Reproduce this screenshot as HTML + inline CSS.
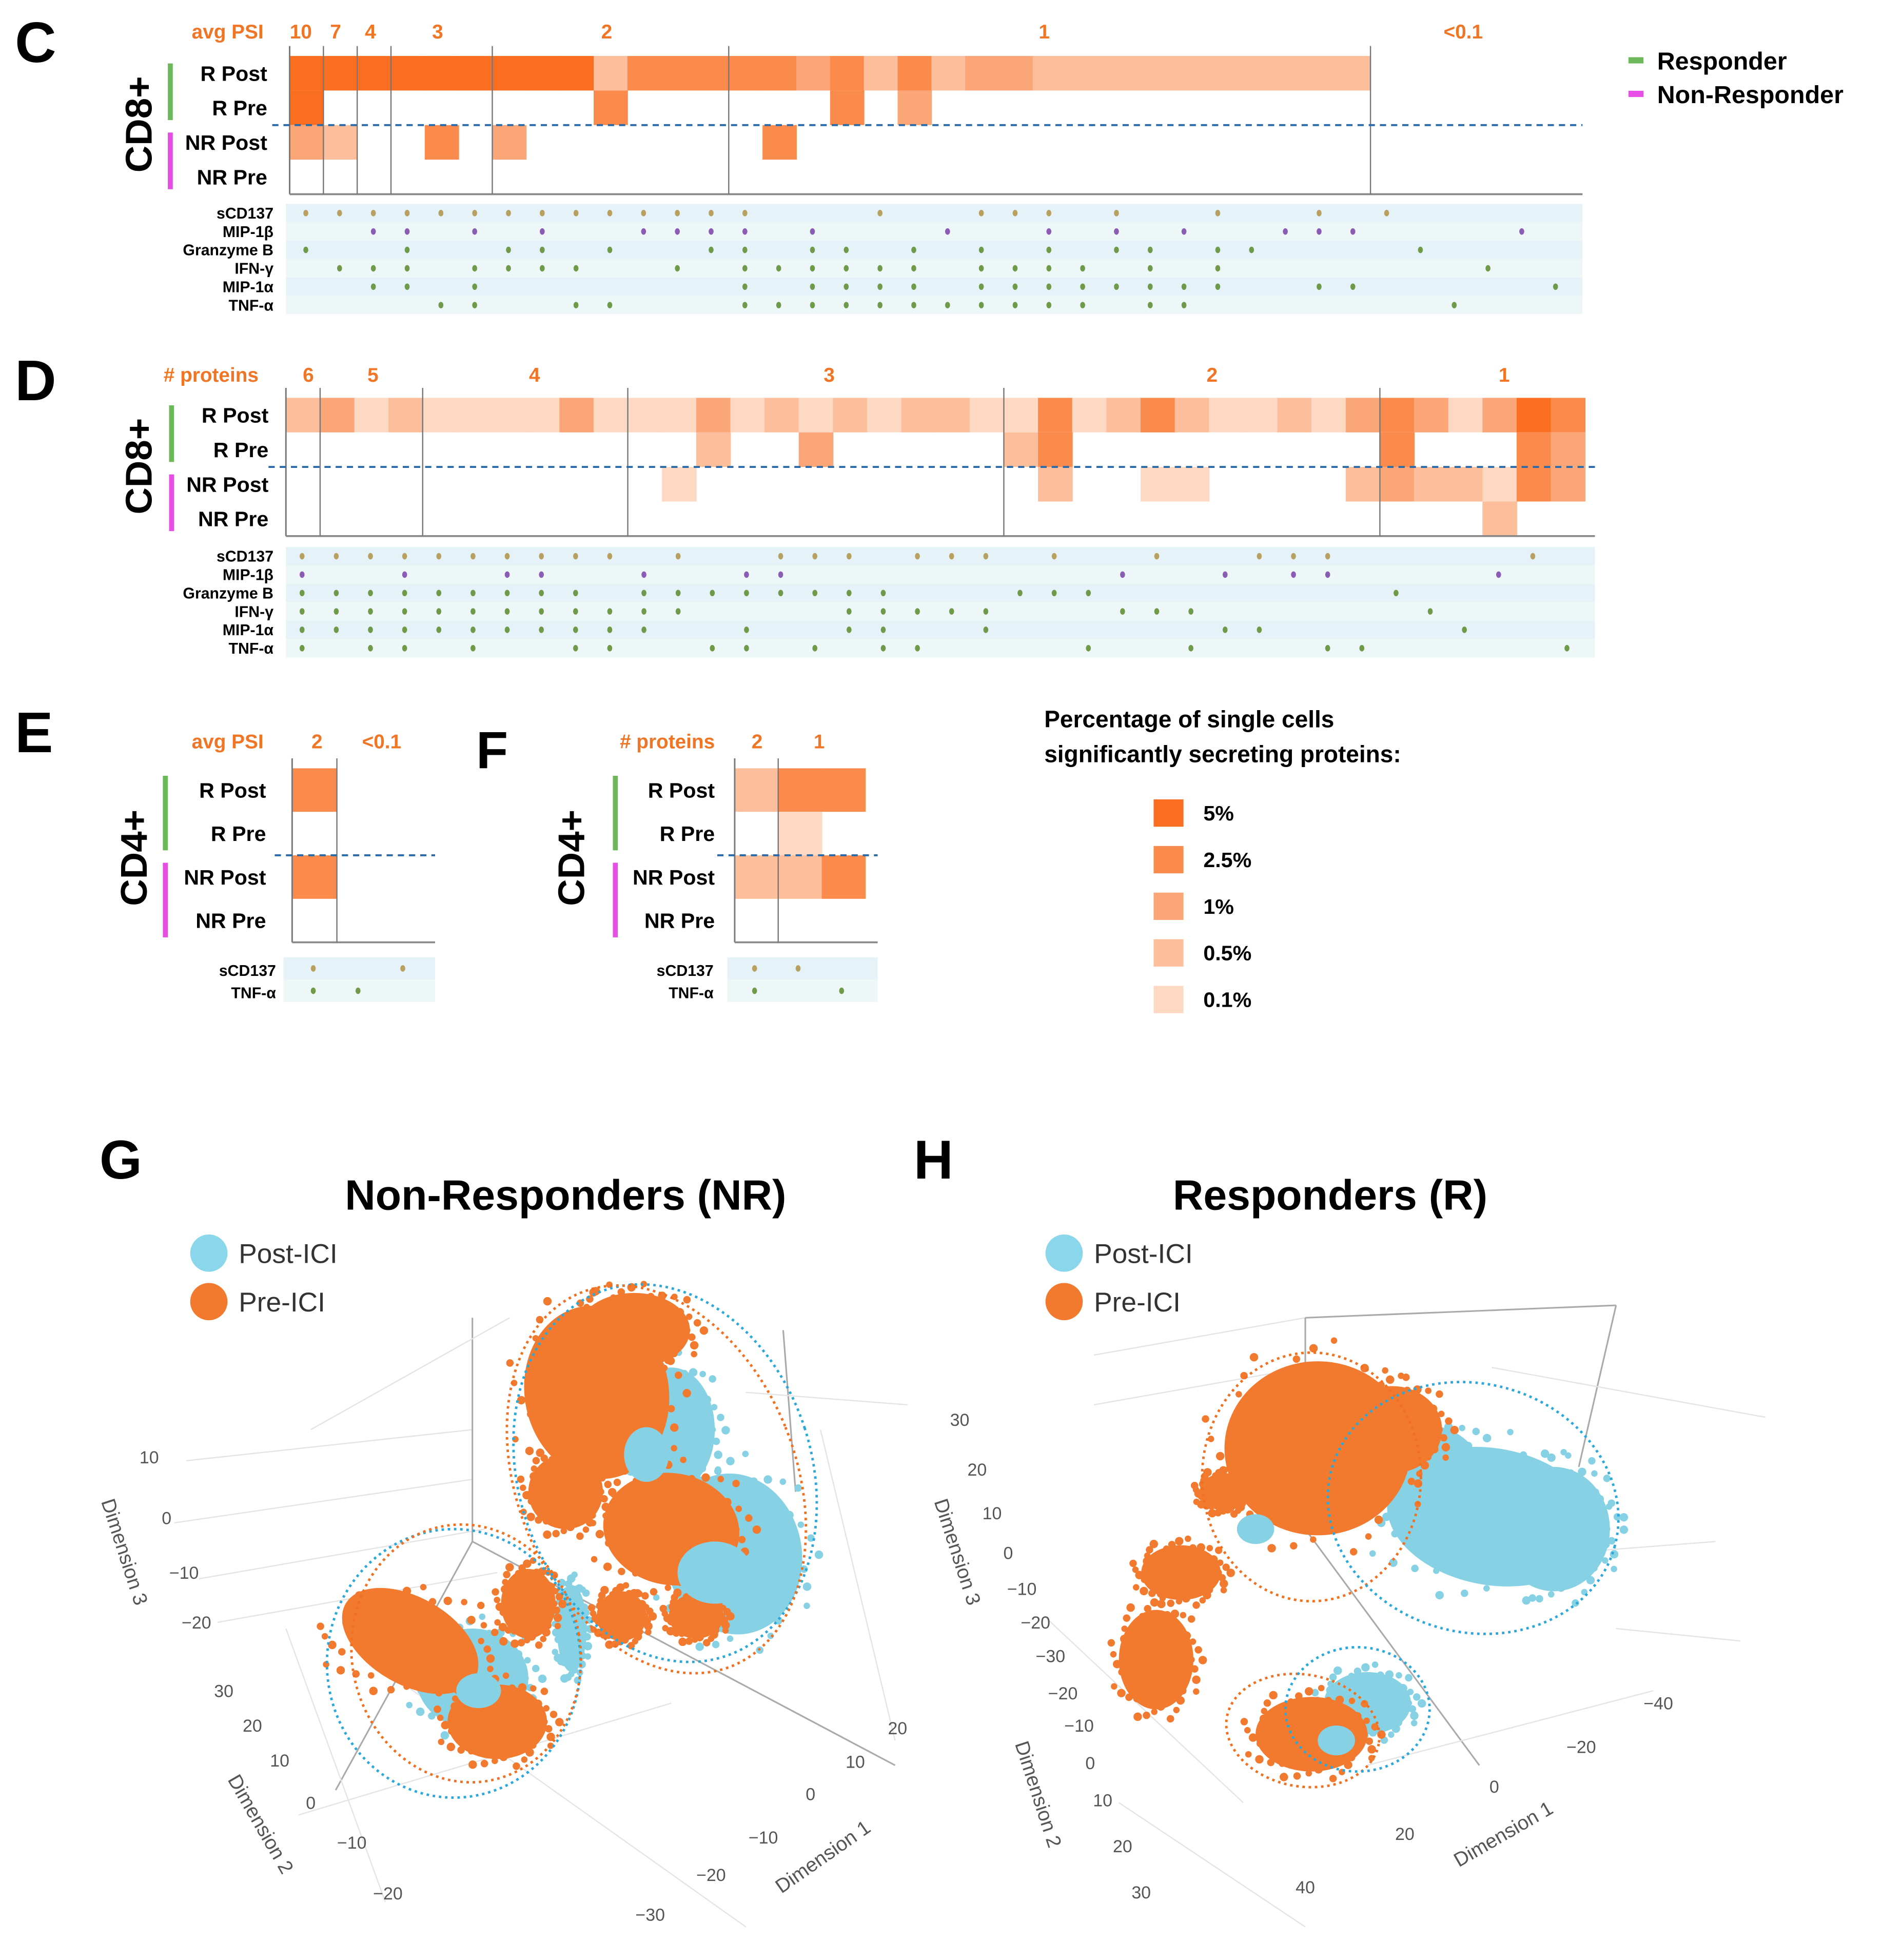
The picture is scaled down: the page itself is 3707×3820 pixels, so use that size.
<!DOCTYPE html>
<html><head><meta charset="utf-8"><style>
html,body{margin:0;padding:0;background:#fff;}
svg{display:block;font-family:"Liberation Sans",Arial,sans-serif;}
</style></head><body>
<svg id="fig" width="3707" height="3820" viewBox="0 0 1530 1576.6" xmlns="http://www.w3.org/2000/svg">
<g id="root"></g>
</svg>
<script>
// ---------- data ----------
const levelColors = ["#ffffff","#fdd9c4","#fcbe9b","#fba677","#fa8b4c","#fa6e22"]; // none,0.1,0.5,1,2.5,5
const legendLevels = ["5%","2.5%","1%","0.5%","0.1%"];
const proteinsC8 = ["sCD137","MIP-1β","Granzyme B","IFN-γ","MIP-1α","TNF-α"];
const proteinsC4 = ["sCD137","TNF-α"];
const rowLabels = ["R Post","R Pre","NR Post","NR Pre"];
const cRPost = [5,5,5,5,5,5,5,5,5,2,4,4,4,4,4,3,4,2,4,2,3,3,2,2,2,2,2,2,2,2,2,2];
const cRPre  = [5,0,0,0,0,0,0,0,0,4,0,0,0,0,0,0,4,0,3,0,0,0,0,0,0,0,0,0,0,0,0,0];
const cNRPost= [3,2,0,0,4,0,3,0,0,0,0,0,0,0,4,0,0,0,0,0,0,0,0,0,0,0,0,0,0,0,0,0];
const cNRPre = [0,0,0,0,0,0,0,0,0,0,0,0,0,0,0,0,0,0,0,0,0,0,0,0,0,0,0,0,0,0,0,0];
const cGroupCols = [1,2,3,6,13,32];
const cGroupLabels = ["10","7","4","3","2","1","<0.1"];
const cDots = [
 [0,1,2,3,4,5,6,7,8,9,10,11,12,13,17,20,21,22,24,27,30,32],
 [2,3,5,7,10,11,12,13,15,19,22,24,26,29,30,31,36],
 [0,3,6,7,9,12,13,15,16,18,20,22,24,25,27,28,33],
 [1,2,3,5,6,7,8,11,13,14,15,16,17,18,20,21,22,23,25,27,35],
 [2,3,5,13,15,16,17,18,20,21,22,23,24,25,26,27,30,31,37],
 [4,5,8,9,13,14,15,16,17,18,19,20,21,22,23,25,26,34]
];
const dRPost = [2,3,1,2,1,1,1,1,3,1,1,1,3,1,2,1,2,1,2,2,1,1,4,1,2,4,2,1,1,2,1,3,4,3,1,3,5,4];
const dRPre  = [0,0,0,0,0,0,0,0,0,0,0,0,2,0,0,3,0,0,0,0,0,2,4,0,0,0,0,0,0,0,0,0,4,0,0,0,4,3];
const dNRPost= [0,0,0,0,0,0,0,0,0,0,0,1,0,0,0,0,0,0,0,0,0,0,2,0,0,1,1,0,0,0,0,2,3,2,2,1,4,3];
const dNRPre = [0,0,0,0,0,0,0,0,0,0,0,0,0,0,0,0,0,0,0,0,0,0,0,0,0,0,0,0,0,0,0,0,0,0,0,2,0,0];
const dGroupCols = [1,4,10,21,32];
const dGroupLabels = ["6","5","4","3","2","1"];
const dDots = [
 [0,1,2,3,4,5,6,7,8,9,11,14,15,16,18,19,20,22,25,28,29,30,36],
 [0,3,6,7,10,13,14,24,27,29,30,35],
 [0,1,2,3,4,5,6,7,8,10,11,12,13,14,15,16,17,21,22,23,32],
 [0,1,2,3,4,5,6,7,8,9,10,11,16,17,18,19,20,24,25,26,33],
 [0,1,2,3,4,5,6,7,8,9,10,13,16,17,20,27,28,34],
 [0,2,3,5,8,9,12,13,15,17,18,23,26,30,31,37]
];
const eLevels = [[4],[0],[4],[0]];
const eDots = [[0,2],[0,1]];
const fLevels = [[2,4,4],[0,1,0],[2,2,4],[0,0,0]];
const fDots = [[0,1],[0,2]];
const gOrange = [[480,1120,58,70,-10],[510,1070,45,30,0],[540,1230,55,45,10],[455,1200,30,30,0],[330,1320,60,35,30],[400,1385,40,30,0],[425,1290,22,28,0],[500,1300,20,20,0],[560,1300,22,18,0]];
const gBlue = [[590,1250,55,65,-10],[540,1150,35,50,0],[380,1350,45,40,0],[460,1310,12,35,0]];
const gBlueTop = [[575,1265,30,25,0],[520,1170,18,22,0],[385,1360,18,14,0]];
const hOrange = [[1060,1165,75,70,0],[1120,1150,40,35,0],[950,1265,32,22,0],[930,1335,30,40,0],[1055,1395,45,30,0],[985,1200,20,15,0]];
const hBlue = [[1200,1220,85,55,10],[1250,1230,45,50,0],[1100,1370,35,25,0],[1140,1180,50,35,0]];
const hBlueTop = [[1010,1230,15,12,0],[1075,1400,15,12,0]];

// ---------- helpers ----------
const NS="http://www.w3.org/2000/svg";
const root=document.getElementById('root');
function el(tag,attrs,parent,text){const e=document.createElementNS(NS,tag);for(const k in attrs)e.setAttribute(k,attrs[k]);if(text!==undefined)e.textContent=text;(parent||root).appendChild(e);return e;}
const ORANGE="#f07525";

function heatPanel(o){
  const g=el('g',{});
  
  
  const rows=[o.rp,o.rpr,o.np,o.npr];
  const xs=c=>o.x0+c*o.cw;
  rows.forEach((r,ri)=>{r.forEach((lv,ci)=>{if(lv>0){const cell=el('rect',{x:xs(ci),y:o.y0+ri*o.rh,width:o.cw+0.4,height:o.rh,fill:levelColors[lv]},g);
    
    }});});
  el('line',{x1:o.x0,y1:o.y0-8,x2:o.x0,y2:o.y0+4*o.rh,stroke:'#777','stroke-width':1.2},g);
  el('line',{x1:o.x0,y1:o.y0+4*o.rh,x2:o.axEnd,y2:o.y0+4*o.rh,stroke:'#888','stroke-width':1.5},g);
  o.groups.forEach(c=>el('line',{x1:xs(c),y1:o.y0-8,x2:xs(c),y2:o.y0+4*o.rh,stroke:'#777','stroke-width':1},g));
  el('line',{x1:o.x0-14,y1:o.y0+2*o.rh,x2:o.axEnd,y2:o.y0+2*o.rh,stroke:'#2a6aa8','stroke-width':1.6,'stroke-dasharray':'5,4'},g);
  rowLabels.forEach((l,i)=>{const t=el('text',{x:o.lblX,y:o.y0+i*o.rh+o.rh/2+6,'text-anchor':'end','font-size':o.fs,'font-weight':'bold'},g,l);
    
    });
  el('rect',{x:o.barX,y:o.y0+6,width:4,height:2*o.rh-10,fill:'#6cb85a'},g);
  el('rect',{x:o.barX,y:o.y0+2*o.rh+6,width:4,height:2*o.rh-10,fill:'#e64ee6'},g);
  const h=el('text',{x:o.hdrX,y:o.hdrY,'text-anchor':'end','font-size':16,'font-weight':'bold',fill:ORANGE},g,o.hdr);
  
  
  o.gl.forEach((l,i)=>{const t=el('text',{x:o.glX[i],y:o.hdrY,'text-anchor':'middle','font-size':16,'font-weight':'bold',fill:ORANGE},g,l);
    
    });
  const pr=o.prot, dh=o.dh;
  pr.forEach((p,i)=>{
    el('rect',{x:o.dx0,y:o.dy0+i*dh,width:o.dEnd-o.dx0,height:dh,fill:i%2?'#eef7f7':'#e5f3f8'},g);
    const t=el('text',{x:o.dLblX,y:o.dy0+i*dh+dh-3,'text-anchor':'end','font-size':12.5,'font-weight':'bold'},g,p);
    
    
    const col=i==0?'#b8a060':(i==1&&pr.length>2?'#8a5cb4':'#6e9a4a');
    o.dots[i].forEach(c=>{const d=el('ellipse',{cx:o.dotX0+c*o.cw,cy:o.dy0+i*dh+dh/2,rx:2,ry:2.6,fill:col},g);
      
      });
  });
}
function txt(x,y,s,fs,name,extra){const t=el('text',Object.assign({x:x,y:y,'font-size':fs,'font-weight':'bold'},extra||{}),root,s);
  
  return t;}
txt(12,50,'C',46,'panel-c-letter');
txt(12,322,'D',46,'panel-d-letter');
txt(12,605,'E',46,'panel-e-letter');
txt(383,618,'F',42,'panel-f-letter');
txt(80,948,'G',44,'panel-g-letter');
txt(735,948,'H',44,'panel-h-letter');
txt(122,100,'CD8+',30,'cd8-label-c',{transform:'rotate(-90 122 100)','text-anchor':'middle'});
txt(122,375,'CD8+',30,'cd8-label-d',{transform:'rotate(-90 122 375)','text-anchor':'middle'});
txt(118,690,'CD4+',30,'cd4-label-e',{transform:'rotate(-90 118 690)','text-anchor':'middle'});
txt(470,690,'CD4+',30,'cd4-label-f',{transform:'rotate(-90 470 690)','text-anchor':'middle'});

heatPanel({name:'panel-c-heatmap',rp:cRPost,rpr:cRPre,np:cNRPost,npr:cNRPre,x0:233,cw:27.17,y0:45,rh:27.8,axEnd:1273,groups:cGroupCols,
  lblX:215,barX:135,fs:17,hdr:'avg PSI',hdrX:212,hdrY:31,gl:cGroupLabels,glX:[242,270,298,352,488,840,1177],
  prot:proteinsC8,dots:cDots,dx0:230,dEnd:1273,dy0:164,dh:14.8,dLblX:220,dotX0:246});
heatPanel({name:'panel-d-heatmap',rp:dRPost,rpr:dRPre,np:dNRPost,npr:dNRPre,x0:230,cw:27.5,y0:320,rh:27.8,axEnd:1283,groups:dGroupCols,
  lblX:216,barX:136,fs:17,hdr:'# proteins',hdrX:208,hdrY:307,gl:dGroupLabels,glX:[248,300,430,667,975,1210],
  prot:proteinsC8,dots:dDots,dx0:230,dEnd:1283,dy0:440,dh:14.8,dLblX:220,dotX0:243});
heatPanel({name:'panel-e-heatmap',rp:eLevels[0],rpr:eLevels[1],np:eLevels[2],npr:eLevels[3],x0:235,cw:36,y0:618,rh:35,axEnd:350,groups:[1],
  lblX:214,barX:131,fs:17,hdr:'avg PSI',hdrX:212,hdrY:602,gl:['2','<0.1'],glX:[255,307],
  prot:proteinsC4,dots:eDots,dx0:228,dEnd:350,dy0:770,dh:18,dLblX:222,dotX0:252});
heatPanel({name:'panel-f-heatmap',rp:fLevels[0],rpr:fLevels[1],np:fLevels[2],npr:fLevels[3],x0:591,cw:35,y0:618,rh:35,axEnd:706,groups:[1],
  lblX:575,barX:493,fs:17,hdr:'# proteins',hdrX:575,hdrY:602,gl:['2','1'],glX:[609,659],
  prot:proteinsC4,dots:fDots,dx0:585,dEnd:706,dy0:770,dh:18,dLblX:574,dotX0:607});

el('rect',{x:1310,y:46,width:12,height:5,fill:'#6cb85a'});
txt(1333,56,'Responder',20,'legend-responder');
el('rect',{x:1310,y:73,width:12,height:5,fill:'#e64ee6'});
txt(1333,83,'Non-Responder',20,'legend-non-responder');
txt(840,585,'Percentage of single cells',19,'pct-legend-title-1');
txt(840,613,'significantly secreting proteins:',19,'pct-legend-title-2');
legendLevels.forEach((l,i)=>{
  const r=el('rect',{x:928,y:643+i*37.5,width:24,height:22,fill:levelColors[5-i]});
  
  
  txt(968,660+i*37.5,l,17,'pct-legend-label');
});

function scatter(o){
  const g=el('g',{});
  
  
  o.grid.forEach(l=>el('line',{x1:l[0],y1:l[1],x2:l[2],y2:l[3],stroke:l[4]||'#e4e4e4','stroke-width':l[4]?1.3:1},g));
  const drawBlobs=(arr,col,fr)=>arr.forEach(b=>{
    const e=el('ellipse',{cx:b[0],cy:b[1],rx:b[2],ry:b[3],fill:col,transform:`rotate(${b[4]} ${b[0]} ${b[1]})`},g);
    
    
    if(!fr)return;
    for(let k=0;k<36;k++){const a=k*0.1745*1.03;const f=0.95+0.1*(k%4);
      el('circle',{cx:b[0]+Math.cos(a)*b[2]*f,cy:b[1]+Math.sin(a)*b[3]*f,r:2.6+(k%3)*0.4,fill:col},g);}
  });
  drawBlobs(o.blue,'#86d2e4',true);
  drawBlobs(o.orange,'#f27a2e',true);
  drawBlobs(o.blueTop,'#86d2e4',false);
  o.rings.forEach(r=>{const e=el('ellipse',{cx:r[0],cy:r[1],rx:r[2],ry:r[3],fill:'none',stroke:r[5],'stroke-width':2,'stroke-dasharray':'2,3',transform:`rotate(${r[4]} ${r[0]} ${r[1]})`},g);
    
    });
  const t=el('text',{x:o.tx,y:973,'text-anchor':'middle','font-size':34,'font-weight':'bold'},g,o.title);
  
  
  [['Post-ICI','#8ad6ea',1008],['Pre-ICI','#f27a2e',1047]].forEach(l=>{
    el('circle',{cx:o.lx,cy:l[2],r:15,fill:l[1]},g);
    const lt=el('text',{x:o.lx+24,y:l[2]+8,'font-size':22,fill:'#333'},g,l[0]);
    
    
  });
  o.ticks.forEach(tk=>{const e=el('text',{x:tk[0],y:tk[1],'font-size':14,fill:'#555','text-anchor':'middle'},g,tk[2]);
    
    });
  o.axt.forEach(a=>{const e=el('text',{x:a[0],y:a[1],'font-size':16,fill:'#555','text-anchor':'middle',transform:`rotate(${a[3]} ${a[0]} ${a[1]})`},g,a[2]);
    
    });
}
scatter({name:'scatter-non-responders',title:'Non-Responders (NR)',tx:455,lx:168,orange:gOrange,blue:gBlue,blueTop:gBlueTop,
 grid:[[150,1175,380,1150],[140,1225,380,1190],[160,1270,390,1230],[175,1305,400,1265],[380,1060,380,1240,'#aaa'],[380,1240,720,1420,'#aaa'],[270,1440,380,1240,'#aaa'],[630,1070,640,1200,'#aaa'],[250,1150,410,1060],[230,1310,310,1530],[290,1330,600,1550],[600,1120,730,1130],[660,1150,720,1400],[240,1460,540,1370]],
 rings:[[535,1185,118,155,-18,'#2aa8dc'],[528,1190,112,162,-22,'#f07020'],[365,1338,102,108,0,'#2aa8dc'],[375,1330,92,104,-10,'#f07020']],
 ticks:[[120,1177,'10'],[134,1226,'0'],[148,1270,'−10'],[158,1310,'−20'],[180,1365,'30'],[203,1393,'20'],[225,1421,'10'],[250,1455,'0'],[283,1487,'−10'],[312,1528,'−20'],[722,1395,'20'],[688,1422,'10'],[652,1448,'0'],[614,1483,'−10'],[572,1513,'−20'],[523,1545,'−30']],
 axt:[[95,1250,'Dimension 3',72],[205,1470,'Dimension 2',60],[665,1498,'Dimension 1',-35]]});
scatter({name:'scatter-responders',title:'Responders (R)',tx:1070,lx:856,orange:hOrange,blue:hBlue,blueTop:hBlueTop,
 grid:[[880,1090,1050,1060],[1050,1060,1300,1050,'#aaa'],[1050,1060,1050,1230,'#aaa'],[1300,1050,1270,1180,'#aaa'],[1050,1230,1190,1420,'#aaa'],[880,1130,1050,1100],[1200,1100,1420,1140],[1250,1250,1380,1240],[1300,1310,1400,1320],[900,1450,1050,1550],[1100,1420,1330,1360],[840,1300,1000,1450]],
 rings:[[1055,1188,88,100,0,'#f07020'],[1185,1213,118,100,15,'#2aa8dc'],[1048,1392,62,45,10,'#f07020'],[1092,1375,58,50,0,'#2aa8dc']],
 ticks:[[772,1147,'30'],[786,1187,'20'],[798,1222,'10'],[811,1254,'0'],[822,1283,'−10'],[833,1310,'−20'],[845,1337,'−30'],[855,1367,'−20'],[868,1393,'−10'],[877,1423,'0'],[887,1453,'10'],[903,1490,'20'],[918,1527,'30'],[1334,1375,'−40'],[1272,1410,'−20'],[1202,1442,'0'],[1130,1480,'20'],[1050,1523,'40']],
 axt:[[765,1250,'Dimension 3',72],[830,1445,'Dimension 2',72],[1212,1480,'Dimension 1',-30]]});
</script>
</body></html>
